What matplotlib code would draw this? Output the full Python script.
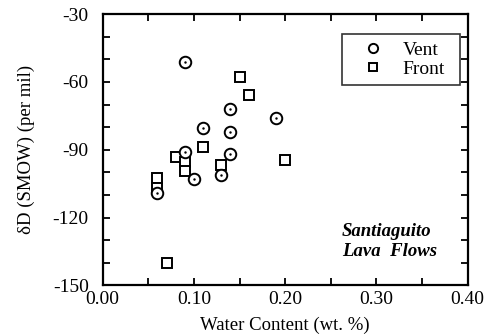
import matplotlib
matplotlib.use("Agg")
import matplotlib.pyplot as plt
from matplotlib.ticker import MultipleLocator

# Vent samples
vent_x = [0.06, 0.09, 0.09, 0.10, 0.11, 0.13, 0.14, 0.14, 0.14, 0.19]
vent_y = [-109, -51, -91, -103, -80.5, -101, -72, -82, -92, -76]

# Front samples
front_x = [0.06, 0.06, 0.07, 0.08, 0.09, 0.09, 0.11, 0.13, 0.15, 0.16, 0.20]
front_y = [-102.5, -107, -140, -93, -95.5, -99.5, -89, -96.6, -57.7, -65.7, -94.6]

xticks = [0.00, 0.10, 0.20, 0.30, 0.40]
yticks = [-150, -120, -90, -60, -30]

plt.rcParams['font.family'] = ['Liberation Serif', 'DejaVu Serif']
plt.rcParams['axes.unicode_minus'] = False

fig = plt.figure(figsize=(4.95, 3.35), dpi=100)
ax = fig.add_axes([0.2075, 0.148, 0.737, 0.810])

ax.plot(vent_x, vent_y, 'o', ms=8.3, mfc='white', mec='black', mew=1.4, label='Vent', zorder=3)
ax.plot(front_x, front_y, 's', ms=7.8, mfc='white', mec='black', mew=1.4, label='Front', zorder=2)
# the tiny dot in the centre of each circle
ax.plot(vent_x, vent_y, '.', ms=1.5, color='black', zorder=4)

ax.set_xlim(0, 0.40)
ax.set_ylim(-150, -30)
ax.set_xticks(xticks)
ax.set_xticklabels(['%.2f' % t for t in xticks])
ax.set_yticks(yticks)
ax.xaxis.set_minor_locator(MultipleLocator(0.05))
ax.yaxis.set_minor_locator(MultipleLocator(10))
ax.tick_params(which='both', direction='in', top=True, right=True, width=1.3, length=5, labelsize=14)
ax.tick_params(axis='y', pad=10)
ax.tick_params(axis='x', pad=4)
for s in ax.spines.values():
    s.set_linewidth(1.6)

ax.set_xlabel('Water Content (wt. %)', fontsize=13.5, labelpad=6)
ax.set_ylabel('δD (SMOW) (per mil)', fontsize=13.5, labelpad=13)

leg = ax.legend(loc='upper left', bbox_to_anchor=(0.657, 0.0, 0.321, 0.926), mode='expand',
                borderaxespad=0, frameon=True, fancybox=False, edgecolor='black', fontsize=14,
                handletextpad=0.3, borderpad=0.35, labelspacing=0.1,
                handlelength=2.45, markerscale=0.8)
leg.get_frame().set_linewidth(1.2)

ax.text(0.655, 0.162, 'Santiaguito\nLava  Flows', transform=ax.transAxes, ha='left', va='center',
        fontsize=13.5, fontweight='bold', fontstyle='italic', linespacing=1.3)

fig.savefig('out.png', dpi=100)
